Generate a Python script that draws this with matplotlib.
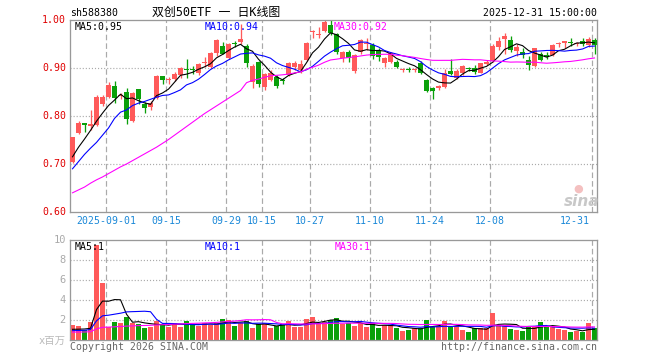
import matplotlib
matplotlib.use("Agg")
import matplotlib.pyplot as plt
import numpy as np
import math

plt.rcParams['lines.scale_dashes'] = False

# ---------------- data ----------------
x_labels = ["2025-09-01", "09-15", "09-29", "10-15", "10-27", "11-10", "11-24", "12-08", "12-31"]
x_label_idx = [6, 16, 26, 32, 40, 50, 60, 70, 87]

opens = [0.705, 0.764, 0.785, 0.780, 0.781, 0.825, 0.840, 0.863, 0.841, 0.850,
         0.789, 0.856, 0.826, 0.819, 0.838, 0.883, 0.874, 0.878, 0.885, 0.898,
         0.898, 0.889, 0.911, 0.902, 0.931, 0.946, 0.921, 0.951, 0.955, 0.946,
         0.870, 0.913, 0.861, 0.876, 0.882, 0.875, 0.885, 0.903, 0.896, 0.917,
         0.974, 0.968, 0.977, 0.990, 0.970, 0.920, 0.934, 0.893, 0.934, 0.949,
         0.948, 0.938, 0.910, 0.913, 0.913, 0.896, 0.897, 0.895, 0.911, 0.874,
         0.858, 0.858, 0.861, 0.894, 0.880, 0.889, 0.900, 0.899, 0.890, 0.908,
         0.915, 0.943, 0.960, 0.958, 0.936, 0.934, 0.917, 0.905, 0.929, 0.927,
         0.927, 0.950, 0.953, 0.954, 0.950, 0.956, 0.948, 0.958]
highs = [0.757, 0.790, 0.786, 0.813, 0.843, 0.843, 0.870, 0.872, 0.848, 0.858,
         0.849, 0.857, 0.829, 0.832, 0.885, 0.884, 0.882, 0.892, 0.903, 0.918,
         0.905, 0.910, 0.923, 0.933, 0.960, 0.955, 0.952, 0.957, 0.992, 0.950,
         0.908, 0.915, 0.890, 0.895, 0.886, 0.880, 0.913, 0.915, 0.917, 0.955,
         0.979, 0.986, 0.999, 1.002, 0.973, 0.936, 0.937, 0.930, 0.961, 0.962,
         0.952, 0.942, 0.922, 0.933, 0.917, 0.900, 0.902, 0.900, 0.914, 0.877,
         0.860, 0.865, 0.897, 0.919, 0.897, 0.906, 0.903, 0.906, 0.911, 0.916,
         0.951, 0.965, 0.972, 0.966, 0.950, 0.942, 0.925, 0.942, 0.934, 0.934,
         0.949, 0.955, 0.956, 0.962, 0.955, 0.962, 0.965, 0.962]
lows = [0.703, 0.762, 0.767, 0.770, 0.779, 0.820, 0.837, 0.827, 0.836, 0.783,
        0.787, 0.826, 0.806, 0.813, 0.836, 0.866, 0.866, 0.873, 0.880, 0.880,
        0.887, 0.885, 0.902, 0.900, 0.925, 0.930, 0.918, 0.944, 0.951, 0.902,
        0.858, 0.860, 0.855, 0.872, 0.858, 0.866, 0.883, 0.896, 0.889, 0.915,
        0.962, 0.962, 0.975, 0.968, 0.930, 0.913, 0.912, 0.890, 0.930, 0.937,
        0.918, 0.915, 0.903, 0.911, 0.901, 0.892, 0.891, 0.891, 0.887, 0.850,
        0.835, 0.855, 0.858, 0.886, 0.877, 0.886, 0.894, 0.887, 0.889, 0.906,
        0.913, 0.938, 0.930, 0.934, 0.924, 0.921, 0.896, 0.903, 0.915, 0.919,
        0.926, 0.944, 0.942, 0.945, 0.946, 0.946, 0.944, 0.930]
closes = [0.756, 0.786, 0.781, 0.783, 0.840, 0.840, 0.865, 0.838, 0.844, 0.793,
          0.848, 0.836, 0.816, 0.828, 0.884, 0.876, 0.876, 0.888, 0.900, 0.896,
          0.895, 0.908, 0.913, 0.932, 0.958, 0.930, 0.949, 0.949, 0.961, 0.911,
          0.904, 0.866, 0.887, 0.889, 0.862, 0.873, 0.911, 0.910, 0.908, 0.953,
          0.976, 0.970, 0.995, 0.972, 0.934, 0.934, 0.921, 0.927, 0.958, 0.951,
          0.925, 0.922, 0.920, 0.931, 0.902, 0.898, 0.895, 0.897, 0.890, 0.852,
          0.852, 0.862, 0.889, 0.888, 0.894, 0.904, 0.898, 0.892, 0.910, 0.913,
          0.946, 0.957, 0.967, 0.938, 0.944, 0.927, 0.906, 0.941, 0.917, 0.922,
          0.948, 0.952, 0.956, 0.953, 0.951, 0.950, 0.960, 0.948]
volumes = [1.50, 1.40, 1.00, 1.83, 9.50, 5.73, 1.33, 1.83, 1.73, 2.27,
           1.73, 1.60, 1.23, 1.33, 1.93, 1.60, 1.33, 1.67, 1.33, 1.93,
           1.50, 1.40, 1.73, 1.50, 1.73, 2.13, 2.00, 1.40, 1.67, 1.93,
           1.17, 1.60, 1.67, 1.17, 1.40, 1.60, 1.93, 1.30, 1.33, 2.07,
           2.33, 1.73, 1.83, 2.00, 2.23, 1.60, 1.73, 1.40, 1.67, 1.33,
           1.67, 1.23, 1.50, 1.50, 1.23, 0.90, 1.00, 1.17, 1.23, 2.00,
           1.33, 1.40, 1.93, 1.33, 1.40, 1.00, 0.80, 1.23, 1.17, 1.17,
           2.73, 1.50, 1.40, 1.10, 1.00, 0.90, 1.40, 1.40, 1.80, 1.27,
           1.33, 1.10, 1.00, 0.80, 0.90, 0.80, 1.70, 1.17]

# leading moving-average values (need data before the visible window)
ma5_head = [0.715, 0.735, 0.752, 0.770]
ma10_head = [0.690, 0.705, 0.720, 0.733, 0.745, 0.760, 0.775, 0.795, 0.808]
ma30_head = [0.640, 0.646, 0.652, 0.660, 0.667, 0.673, 0.680, 0.687, 0.694, 0.700,
             0.707, 0.714, 0.721, 0.728, 0.735, 0.743, 0.751, 0.760, 0.769, 0.778,
             0.787, 0.796, 0.805, 0.813, 0.821, 0.829, 0.837, 0.845, 0.853]
vma5_head = [1.07, 1.08, 1.10, 1.17]
vma10_head = [0.93, 0.95, 0.97, 1.05, 1.92, 2.42, 2.48, 2.58, 2.68]
vma30_head = [0.78, 0.80, 0.80, 0.83, 1.11, 1.27, 1.29, 1.32, 1.35, 1.39,
              1.41, 1.44, 1.45, 1.47, 1.51, 1.53, 1.55, 1.58, 1.60, 1.64,
              1.66, 1.68, 1.71, 1.73, 1.76, 1.81, 1.86, 1.89, 1.95]

price_ticks = [0.60, 0.70, 0.80, 0.90, 1.00]
vol_ticks = [2, 4, 6, 8, 10]


def moving_avg(vals, n, head):
    out = list(head)
    for i in range(len(head), len(vals)):
        out.append(float(np.mean(vals[i - n + 1:i + 1])))
    return np.array(out)


def trunc2(v):
    return f"{math.floor(v * 100 + 1e-9) / 100:.2f}"


ma5 = moving_avg(closes, 5, ma5_head)
ma10 = moving_avg(closes, 10, ma10_head)
ma30 = moving_avg(closes, 30, ma30_head)
vma5 = moving_avg(volumes, 5, vma5_head)
vma10 = moving_avg(volumes, 10, vma10_head)
vma30 = moving_avg(volumes, 30, vma30_head)

# ---------------- figure ----------------
W, H = 660, 360
fig = plt.figure(figsize=(W / 100, H / 100), dpi=100)
fig.patch.set_facecolor("white")

MONO = "DejaVu Sans Mono"
FS = 7.1
RED = "#ff5a5a"
GREEN = "#0aa00a"
GRID = "#aaaaaa"
FRAME = "#999999"
PX = 0.72


def ax_rect(left, top, right, bottom):
    return [left / W, 1 - bottom / H, (right - left) / W, (bottom - top) / H]


ax = fig.add_axes(ax_rect(70, 20, 597, 212))
axv = fig.add_axes(ax_rect(70, 240, 597, 340))

n = len(closes)
idx = np.arange(n)
xc = idx + 0.42
xmax = 527 / 6

for a in (ax, axv):
    a.set_xlim(0, xmax)
    for s in a.spines.values():
        s.set_color(FRAME)
        s.set_linewidth(PX * 1.3)
    a.set_xticks([])
    a.tick_params(left=False, labelleft=False)
    for k in x_label_idx:
        a.axvline(k, color=GRID, lw=PX * 1.2, linestyle=(0, (4.0, 2.2)), zorder=0)

# main panel
ax.set_ylim(0.60, 1.00)
for t in [0.70, 0.80, 0.90]:
    ax.axhline(t, color=GRID, lw=PX * 1.2, linestyle=(0, (0.8, 1.4)), zorder=0)

o = np.array(opens); c = np.array(closes); h = np.array(highs); l = np.array(lows)
up = c >= o
cols = np.where(up, RED, GREEN)
ax.vlines(xc, l, h, colors=cols, lw=PX * 1.3, zorder=2)
body_bottom = np.minimum(o, c)
body_h = np.maximum(np.abs(c - o), 0.0022)
ax.bar(xc, body_h, bottom=body_bottom, width=0.8, color=cols, zorder=3, linewidth=0)

ax.plot(xc, ma5, color="black", lw=PX * 1.1, zorder=4)
ax.plot(xc, ma10, color="#0000ff", lw=PX * 1.1, zorder=4)
ax.plot(xc, ma30, color="#ff00ff", lw=PX * 1.1, zorder=4)

# volume panel
axv.set_ylim(0, 10)
for t in [2, 4, 6, 8]:
    axv.axhline(t, color=GRID, lw=PX * 1.2, linestyle=(0, (0.8, 1.4)), zorder=0)
axv.bar(xc, volumes, width=0.83, color=cols, zorder=2, linewidth=0)
axv.plot(xc, vma5, color="black", lw=PX * 1.1, zorder=4)
axv.plot(xc, vma10, color="#0000ff", lw=PX * 1.1, zorder=4)
axv.plot(xc, vma30, color="#ff00ff", lw=PX * 1.1, zorder=4)


def ftext(x, y, s, **kw):
    fig.text(x / W, 1 - y / H, s, **kw)


# y labels
for t in price_ticks:
    ypx = 212 - (t - 0.60) / 0.40 * 192
    ftext(66, ypx, f"{t:.2f}", ha="right", va="center", color="#e00000",
          family=MONO, fontsize=FS)
for t in vol_ticks:
    ypx = 340 - t * 10
    ftext(66, ypx, f"{t}", ha="right", va="center", color="#aaaaaa",
          family=MONO, fontsize=FS * 1.05)

# x labels
for lab, k in zip(x_labels, x_label_idx):
    xpx = 70 + 6 * k
    if k == 87:
        ftext(590, 221, lab, ha="right", va="center", color="#1a88d8", family=MONO, fontsize=FS)
    else:
        ftext(xpx, 221, lab, ha="center", va="center", color="#1a88d8", family=MONO, fontsize=FS)

# header
ftext(70, 12.5, "sh588380", ha="left", va="center", color="black", family=MONO, fontsize=FS)
ftext(216, 12, "双创50ETF 一 日K线图", ha="center", va="center", color="black",
      family=[MONO, "Noto Sans CJK SC"], fontsize=8.6)
ftext(597, 12.5, "2025-12-31 15:00:00", ha="right", va="center", color="black",
      family=MONO, fontsize=FS)

# legends
ftext(75, 26.5, f"MA5:{trunc2(ma5[-1])}", ha="left", va="center", color="black", family=MONO, fontsize=FS)
ftext(205, 26.5, f"MA10:{trunc2(ma10[-1])}", ha="left", va="center", color="#0000ff", family=MONO, fontsize=FS)
ftext(334, 26.5, f"MA30:{trunc2(ma30[-1])}", ha="left", va="center", color="#ff00ff", family=MONO, fontsize=FS)
ftext(75, 246.5, f"MA5:{int(vma5[-1])}", ha="left", va="center", color="black", family=MONO, fontsize=FS)
ftext(205, 246.5, f"MA10:{int(vma10[-1])}", ha="left", va="center", color="#0000ff", family=MONO, fontsize=FS)
ftext(335, 246.5, f"MA30:{int(vma30[-1])}", ha="left", va="center", color="#ff00ff", family=MONO, fontsize=FS)

# footer
ftext(66, 340.5, "x百万", ha="right", va="center", color="#bbbbbb",
      family=[MONO, "Noto Sans CJK SC"], fontsize=7.5)
ftext(70, 346.5, "Copyright 2026 SINA.COM", ha="left", va="center", color="#666666",
      family=MONO, fontsize=FS)
ftext(597, 346.5, "http://finance.sina.com.cn", ha="right", va="center", color="#666666",
      family=MONO, fontsize=FS)

# watermark
ftext(582, 202, "sina", ha="center", va="center", color="#c8c8c8", fontsize=11,
      fontweight="bold", style="italic", family="DejaVu Sans")
ftext(578, 189, "●", ha="center", va="center", color="#f4c0c0", fontsize=8, family="DejaVu Sans")

fig.savefig("out.png", dpi=100, facecolor="white")
